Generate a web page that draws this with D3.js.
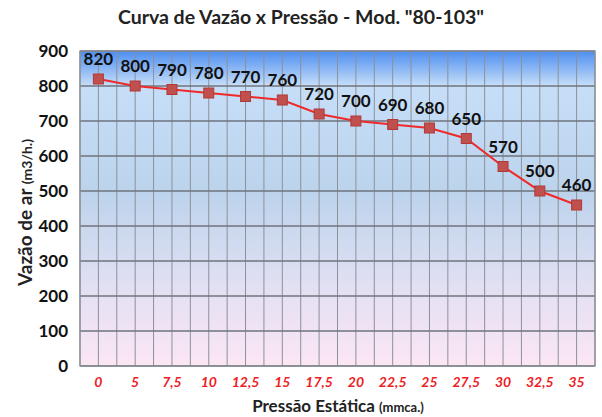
<!DOCTYPE html>
<html><head><meta charset="utf-8">
<script src="https://cdnjs.cloudflare.com/ajax/libs/d3/7.8.5/d3.min.js"></script>
<style>body{margin:0;background:#fff}svg{display:block}</style>
</head><body>
<svg id="c" width="602" height="417"></svg>
<script>
const categories = ["0","5","7,5","10","12,5","15","17,5","20","22,5","25","27,5","30","32,5","35"];
const values = [820,800,790,780,770,760,720,700,690,680,650,570,500,460];
const yTicks = [0,100,200,300,400,500,600,700,800,900];

const svg = d3.select("#c");
const font = "Lato, 'Open Sans', sans-serif";
const m = {l:80, r:595, t:51, b:366};
const x = d3.scaleBand().domain(categories).range([m.l, m.r]);
const y = d3.scaleLinear().domain([0,900]).range([m.b, m.t]);

const defs = svg.append("defs");
const g1 = defs.append("linearGradient").attr("id","bg").attr("x1",0).attr("y1",0).attr("x2",0).attr("y2",1);
[[0,"#4d8ef0"],[0.11,"#c6def8"],[0.45,"#bcd3ec"],[0.75,"#e2e0f3"],[1,"#fce6f4"]].forEach(([o,c])=>g1.append("stop").attr("offset",o).attr("stop-color",c));

svg.append("rect").attr("x",m.l).attr("y",m.t).attr("width",m.r-m.l).attr("height",m.b-m.t).attr("fill","url(#bg)");

// vertical grid lines at band edges and centers
const vx = [];
categories.forEach(c=>{vx.push(x(c)); vx.push(x(c)+x.bandwidth()/2);});
vx.push(m.r);
svg.append("g").selectAll("line").data(vx).join("line")
  .attr("x1",d=>d).attr("x2",d=>d).attr("y1",m.t).attr("y2",m.b)
  .attr("stroke","#8c919a").attr("stroke-width",1);
svg.append("g").selectAll("line").data(yTicks).join("line")
  .attr("x1",m.l).attr("x2",m.r).attr("y1",d=>y(d)).attr("y2",d=>y(d))
  .attr("stroke","#6f747c").attr("stroke-width",1.3);
svg.append("rect").attr("x",m.l).attr("y",m.t).attr("width",m.r-m.l).attr("height",m.b-m.t)
  .attr("fill","none").attr("stroke","#8a8f96").attr("stroke-width",1.3);

// y axis labels
const ya = svg.append("g").attr("transform",`translate(${m.l-12},0)`).call(d3.axisLeft(y).tickValues(yTicks).tickSize(0).tickPadding(0));
ya.select(".domain").remove();
ya.selectAll("text").attr("font-family",font).attr("font-weight","bold").attr("font-size",17).attr("fill","#111");

// x axis labels
const xa = svg.append("g").attr("transform",`translate(0,${m.b+11})`).call(d3.axisBottom(x).tickSize(0).tickPadding(0));
xa.select(".domain").remove();
xa.selectAll("text").attr("font-family",font).attr("font-weight","bold").attr("font-style","italic").attr("font-size",14).attr("fill","#ee1c24");

// line
const cx = d=>x(d)+x.bandwidth()/2;
svg.append("path").datum(values.map((v,i)=>[categories[i],v]))
  .attr("d",d3.line().x(d=>cx(d[0])).y(d=>y(d[1])))
  .attr("fill","none").attr("stroke","#ee2a2a").attr("stroke-width",2);
svg.append("g").selectAll("rect").data(values).join("rect")
  .attr("x",(d,i)=>cx(categories[i])-5).attr("y",d=>y(d)-5).attr("width",10).attr("height",10)
  .attr("fill","#c0504d").attr("stroke","#b03a38").attr("stroke-width",1);
svg.append("g").selectAll("text").data(values).join("text")
  .attr("x",(d,i)=>cx(categories[i])).attr("y",d=>y(d)-14)
  .attr("text-anchor","middle").attr("font-family",font).attr("font-weight","bold").attr("font-size",17).attr("fill","#111")
  .text(d=>d);

// title
svg.append("text").attr("x",301).attr("y",24).attr("text-anchor","middle")
  .attr("font-family",font).attr("font-weight","bold").attr("font-size",19.5).attr("fill","#222")
  .text('Curva de Vazão x Pressão - Mod. "80-103"');

// x title
const xt = svg.append("text").attr("x",338).attr("y",412).attr("text-anchor","middle")
  .attr("font-family",font).attr("font-weight","bold").attr("fill","#222");
xt.append("tspan").attr("font-size",17).text("Pressão Estática ");
xt.append("tspan").attr("font-size",13).text("(mmca.)");

// y title
const yt = svg.append("text").attr("transform",`translate(32,${(m.t+m.b)/2+4}) rotate(-90)`).attr("text-anchor","middle")
  .attr("font-family",font).attr("font-weight","bold").attr("fill","#222");
yt.append("tspan").attr("font-size",19).text("Vazão de ar ");
yt.append("tspan").attr("font-size",14).text("(m3/h.)");
</script>
</body></html>
